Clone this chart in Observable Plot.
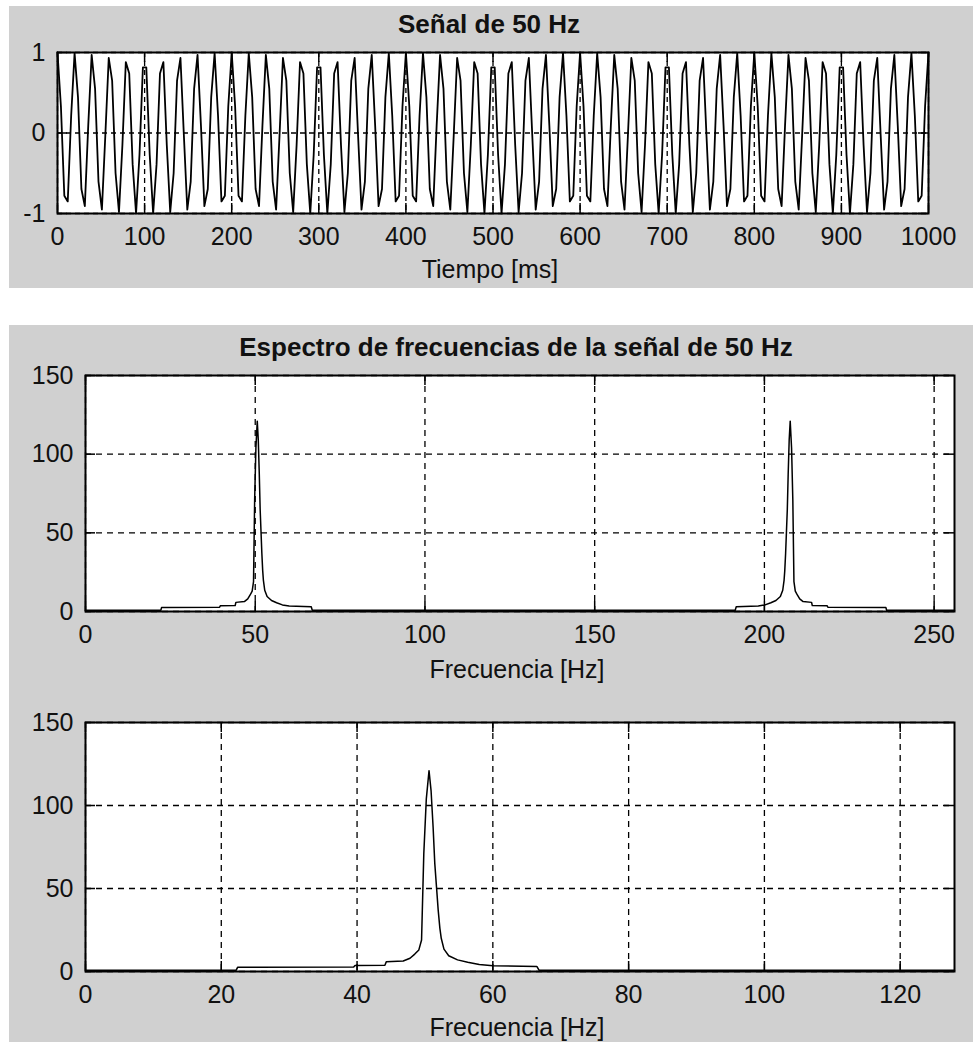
<!DOCTYPE html>
<html>
<head>
<meta charset="utf-8">
<script src="https://cdn.jsdelivr.net/npm/d3@7"></script>
<script src="https://cdn.jsdelivr.net/npm/@observablehq/plot@0.6"></script>
<style>
  body { margin: 0; background: #ffffff; width: 973px; height: 1042px; position: relative; overflow: hidden; }
  .panel { position: absolute; background: #d0d0d0; }
  .chart { position: absolute; width: 964px; }
</style>
</head>
<body>
<div class="panel" style="left:9px;top:6px;width:964px;height:282px"></div>
<div class="panel" style="left:9px;top:325px;width:964px;height:717px"></div>
<div id="c1" class="chart" style="left:9px;top:6px"></div>
<div id="c2" class="chart" style="left:9px;top:325px"></div>
<div id="c3" class="chart" style="left:9px;top:691px"></div>
<script>
// ---------- Data ----------
const signalTitle = "Señal de 50 Hz";
const signalXLabel = "Tiempo [ms]";
const spectrumTitle = "Espectro de frecuencias de la señal de 50 Hz";
const spectrumXLabel = "Frecuencia [Hz]";

const timeTicks = [0, 100, 200, 300, 400, 500, 600, 700, 800, 900, 1000];
const ampTicks = [-1, 0, 1];
const freqTicksFull = [0, 50, 100, 150, 200, 250];
const freqTicksHalf = [0, 20, 40, 60, 80, 100, 120];
const magTicks = [0, 50, 100, 150];

const sampleStepMs = 1000 / 255;
const signalValues = [
  1, 0.332, -0.779, -0.850, 0.214, 0.992, 0.446, -0.696, -0.908, 0.092,
  0.970, 0.552, -0.603, -0.953, -0.031, 0.932, 0.650, -0.500, -0.983, -0.153,
  0.881, 0.739, -0.390, -0.998, -0.274, 0.816, 0.816, -0.274, -0.998, -0.390,
  0.739, 0.881, -0.153, -0.983, -0.500, 0.650, 0.932, -0.031, -0.953, -0.603,
  0.552, 0.970, 0.092, -0.908, -0.696, 0.446, 0.992, 0.214, -0.850, -0.779,
  0.332,
  1, 0.332, -0.779, -0.850, 0.214, 0.992, 0.446, -0.696, -0.908, 0.092,
  0.970, 0.552, -0.603, -0.953, -0.031, 0.932, 0.650, -0.500, -0.983, -0.153,
  0.881, 0.739, -0.390, -0.998, -0.274, 0.816, 0.816, -0.274, -0.998, -0.390,
  0.739, 0.881, -0.153, -0.983, -0.500, 0.650, 0.932, -0.031, -0.953, -0.603,
  0.552, 0.970, 0.092, -0.908, -0.696, 0.446, 0.992, 0.214, -0.850, -0.779,
  0.332,
  1, 0.332, -0.779, -0.850, 0.214, 0.992, 0.446, -0.696, -0.908, 0.092,
  0.970, 0.552, -0.603, -0.953, -0.031, 0.932, 0.650, -0.500, -0.983, -0.153,
  0.881, 0.739, -0.390, -0.998, -0.274, 0.816, 0.816, -0.274, -0.998, -0.390,
  0.739, 0.881, -0.153, -0.983, -0.500, 0.650, 0.932, -0.031, -0.953, -0.603,
  0.552, 0.970, 0.092, -0.908, -0.696, 0.446, 0.992, 0.214, -0.850, -0.779,
  0.332,
  1, 0.332, -0.779, -0.850, 0.214, 0.992, 0.446, -0.696, -0.908, 0.092,
  0.970, 0.552, -0.603, -0.953, -0.031, 0.932, 0.650, -0.500, -0.983, -0.153,
  0.881, 0.739, -0.390, -0.998, -0.274, 0.816, 0.816, -0.274, -0.998, -0.390,
  0.739, 0.881, -0.153, -0.983, -0.500, 0.650, 0.932, -0.031, -0.953, -0.603,
  0.552, 0.970, 0.092, -0.908, -0.696, 0.446, 0.992, 0.214, -0.850, -0.779,
  0.332,
  1, 0.332, -0.779, -0.850, 0.214, 0.992, 0.446, -0.696, -0.908, 0.092,
  0.970, 0.552, -0.603, -0.953, -0.031, 0.932, 0.650, -0.500, -0.983, -0.153,
  0.881, 0.739, -0.390, -0.998, -0.274, 0.816, 0.816, -0.274, -0.998, -0.390,
  0.739, 0.881, -0.153, -0.983, -0.500, 0.650, 0.932, -0.031, -0.953, -0.603,
  0.552, 0.970, 0.092, -0.908, -0.696, 0.446, 0.992, 0.214, -0.850, -0.779,
  0.332,
  1
];

// spectrum magnitude, frequency in Hz
const specFreq = [
  0, 22.2, 22.4, 39.5, 39.7, 44.1, 44.3, 46.8, 47.8, 48.5,
  49.1, 49.5, 49.83, 50.2, 50.6, 50.9, 51.2, 51.45, 51.7, 51.95,
  52.2, 52.4, 52.8, 53.5, 54.8, 56.3, 58, 60, 66.5, 66.8,
  128,
  191.4, 191.7, 198.2, 200.2, 201.9, 203.4, 204.7, 205.4, 205.8, 206.0,
  206.25, 206.5, 206.75, 207.0, 207.3, 207.6, 208.0, 208.37, 208.7, 209.1,
  209.7, 210.4, 211.4, 213.9, 214.1, 218.5, 218.7, 235.8, 236.0, 256
];
const specMag = [
  0.8, 0.8, 2.5, 2.7, 3.6, 3.8, 5.8, 6.3, 8, 10.5,
  13, 19, 71, 104, 121, 109, 87, 65, 51, 37,
  26, 20, 13.5, 9.5, 7, 5.6, 4.2, 3.5, 3, 0.8,
  0.8,
  0.8, 3, 3.5, 4.2, 5.6, 7, 9.5, 13.5, 20, 26,
  37, 51, 65, 87, 109, 121, 104, 71, 19, 13,
  10.5, 8, 6.3, 5.8, 3.8, 3.6, 2.7, 2.5, 0.8, 0.8
];

// ---------- Tables ----------
const signalData = signalValues.map((v, i) => ({x: i * sampleStepMs, y: v}));
const specData = specFreq.map((f, i) => ({x: f, y: specMag[i]}));

// ---------- Chart builder ----------
function chart(o) {
  const plotW = o.width - o.ml - o.mr;
  const plotH = o.height - o.mt - o.mb;
  const marks = [
    Plot.frame({fill: "white", stroke: "none"}),
    Plot.ruleX(o.xTicks, {x: d => d, stroke: "black", strokeWidth: 1.3, strokeDasharray: o.dash}),
    Plot.ruleY(o.yTicks, {y: d => d, stroke: "black", strokeWidth: 1.3, strokeDasharray: o.dash}),
    Plot.line(o.data, {x: "x", y: "y", stroke: "black", strokeWidth: o.lineWidth}),
    Plot.tickX(o.xTicks, {x: d => d, insetTop: plotH - 10, stroke: "black", strokeWidth: 1.5}),
    Plot.tickX(o.xTicks, {x: d => d, insetBottom: plotH - 10, stroke: "black", strokeWidth: 1.5}),
    Plot.tickY(o.yTicks, {y: d => d, insetRight: plotW - 10, stroke: "black", strokeWidth: 1.5}),
    Plot.tickY(o.yTicks, {y: d => d, insetLeft: plotW - 10, stroke: "black", strokeWidth: 1.5}),
    Plot.frame({stroke: "black", strokeWidth: 2}),
    Plot.axisX({ticks: o.xTicks, tickSize: 0, tickPadding: 14, tickFormat: d => String(d), label: null, fill: "#111"}),
    Plot.axisY({ticks: o.yTicks, tickSize: 0, tickPadding: 12, tickFormat: d => String(d), label: null, fill: "#111"}),
    Plot.text([o.xlabel], {text: d => d, frameAnchor: "bottom", lineAnchor: "bottom", dy: o.labelDy, dx: -3, fill: "#111"})
  ];
  if (o.title) {
    marks.push(Plot.text([o.title], {text: d => d, frameAnchor: "top", lineAnchor: "bottom", dy: -20, dx: -4,
      fontWeight: "bold", fontSize: 26, fill: "#111"}));
  }
  return Plot.plot({
    width: o.width,
    height: o.height,
    marginLeft: o.ml,
    marginRight: o.mr,
    marginTop: o.mt,
    marginBottom: o.mb,
    style: "background: transparent; font-family: 'Liberation Sans', Arial, sans-serif; font-size: 25px; color: #111; overflow: visible;",
    x: {domain: o.xDomain},
    y: {domain: o.yDomain},
    marks
  });
}

document.getElementById("c1").appendChild(chart({
  width: 964, height: 282, ml: 48, mr: 45, mt: 46, mb: 75,
  xDomain: [0, 1000], yDomain: [-1, 1], xTicks: timeTicks, yTicks: ampTicks,
  data: signalData, title: signalTitle, xlabel: signalXLabel, labelDy: 64, dash: "5,4", lineWidth: 1.8
}));

document.getElementById("c2").appendChild(chart({
  width: 964, height: 366, ml: 76, mr: 19, mt: 50, mb: 80,
  xDomain: [0, 256], yDomain: [0, 150], xTicks: freqTicksFull, yTicks: magTicks,
  data: specData, title: spectrumTitle, xlabel: spectrumXLabel, labelDy: 66, dash: "6,5", lineWidth: 1.5
}));

document.getElementById("c3").appendChild(chart({
  width: 964, height: 351, ml: 76, mr: 19, mt: 31, mb: 71,
  xDomain: [0, 128], yDomain: [0, 150], xTicks: freqTicksHalf, yTicks: magTicks,
  data: specData.filter(d => d.x <= 128), title: null, xlabel: spectrumXLabel, labelDy: 64, dash: "6,5", lineWidth: 1.5
}));
</script>
</body>
</html>
